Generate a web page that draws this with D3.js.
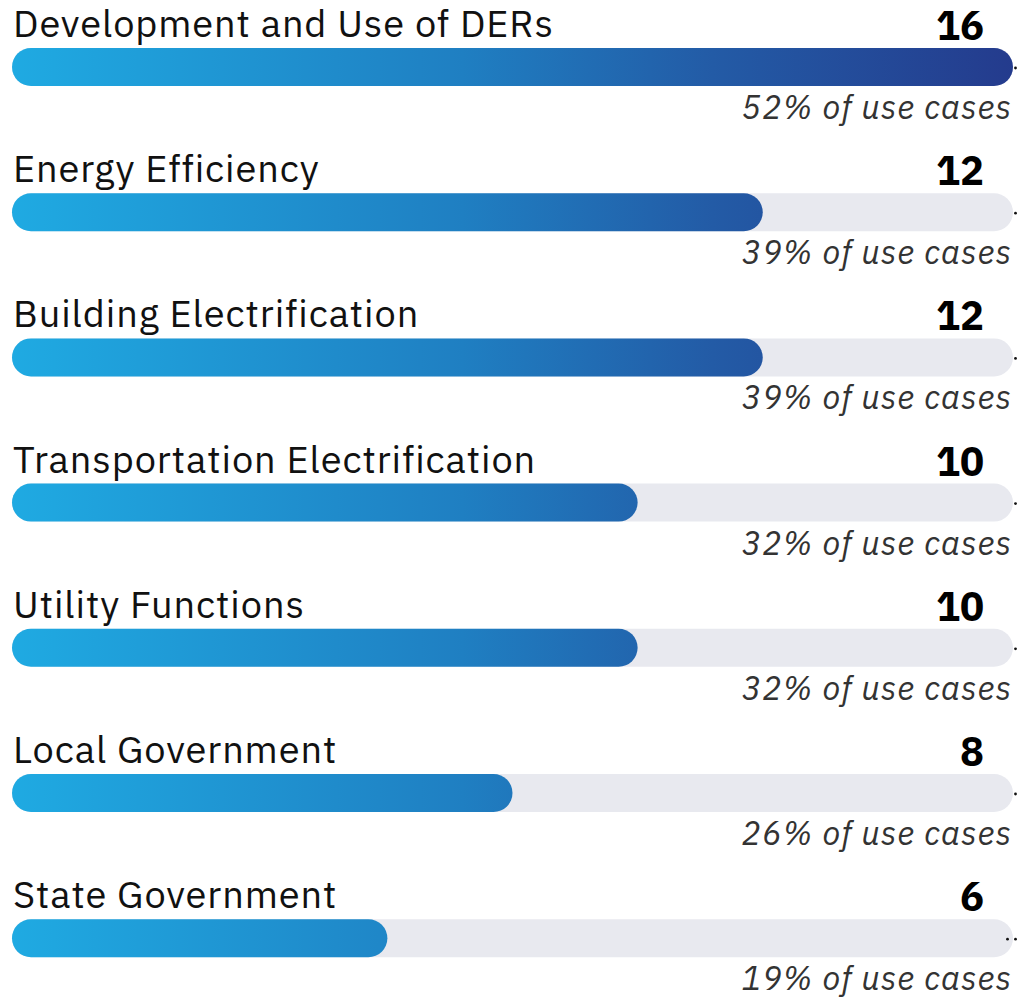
<!DOCTYPE html>
<html>
<head>
<meta charset="utf-8">
<script src="https://cdn.jsdelivr.net/npm/d3@7"></script>
<style>
  html, body { margin: 0; padding: 0; background: #ffffff; }
  svg { display: block; }
</style>
</head>
<body>
<div id="chart"></div>
<script>
const categories = [
  "Development and Use of DERs",
  "Energy Efficiency",
  "Building Electrification",
  "Transportation Electrification",
  "Utility Functions",
  "Local Government",
  "State Government"
];
const counts = [16, 12, 12, 10, 10, 8, 6];
const percentLabels = ["52%", "39%", "39%", "32%", "32%", "26%", "19%"];
const maxValue = 16;

const W = 1018, H = 998;
const left = 12, right = 1013;
const barH = 38;

const svg = d3.select("#chart").append("svg")
  .attr("width", W).attr("height", H);

const defs = svg.append("defs");
const grad = defs.append("linearGradient")
  .attr("id", "barGrad")
  .attr("gradientUnits", "userSpaceOnUse")
  .attr("x1", left).attr("x2", right).attr("y1", 0).attr("y2", 0);
grad.append("stop").attr("offset", "0%").attr("stop-color", "#1FAAE2");
grad.append("stop").attr("offset", "45%").attr("stop-color", "#1F7FC2");
grad.append("stop").attr("offset", "70%").attr("stop-color", "#235BA6");
grad.append("stop").attr("offset", "100%").attr("stop-color", "#243B8D");

const x = d3.scaleLinear().domain([0, maxValue]).range([left, right]);
const y = d3.scaleBand().domain(categories).range([48, 48 + 145.2 * 7]).paddingInner(0).paddingOuter(0);

const font = "'IBM Plex Sans', 'Noto Sans', 'Open Sans', sans-serif";

const rows = svg.selectAll("g.row").data(categories).join("g")
  .attr("class", "row")
  .attr("transform", d => `translate(0,${y(d)})`);

// track
rows.append("rect")
  .attr("x", x(0)).attr("y", 0)
  .attr("width", x(maxValue) - x(0)).attr("height", barH)
  .attr("rx", barH / 2).attr("ry", barH / 2)
  .attr("fill", "#E8E9EF");

// value bar
rows.append("rect")
  .attr("x", x(0)).attr("y", 0)
  .attr("width", (d, i) => x(counts[i]) - x(0)).attr("height", barH)
  .attr("rx", barH / 2).attr("ry", barH / 2)
  .attr("fill", "url(#barGrad)");

// tiny dots at right end
rows.append("circle")
  .attr("cx", x(maxValue) + 2.5).attr("cy", barH / 2 + 1)
  .attr("r", 1.4).attr("fill", "#111");
rows.filter((d, i) => i === categories.length - 1).append("circle")
  .attr("cx", x(maxValue) - 5.5).attr("cy", barH / 2 + 1)
  .attr("r", 1.4).attr("fill", "#111");

// category label
rows.append("text")
  .attr("x", 13).attr("y", -11)
  .attr("font-family", font).attr("font-size", 38)
  .attr("letter-spacing", 0.9)
  .attr("fill", "#111")
  .text(d => d);

// count
rows.append("text")
  .attr("x", 984).attr("y", -8)
  .attr("text-anchor", "end")
  .attr("font-family", font).attr("font-size", 40).attr("font-weight", "bold")
  .attr("fill", "#000")
  .text((d, i) => counts[i]);

// percent
rows.append("text")
  .attr("x", 1012).attr("y", barH + 33)
  .attr("text-anchor", "end")
  .attr("font-family", font).attr("font-size", 33).attr("font-style", "italic")
  .attr("letter-spacing", 1)
  .attr("fill", "#333")
  .text((d, i) => `${percentLabels[i]} of use cases`);
</script>
</body>
</html>
